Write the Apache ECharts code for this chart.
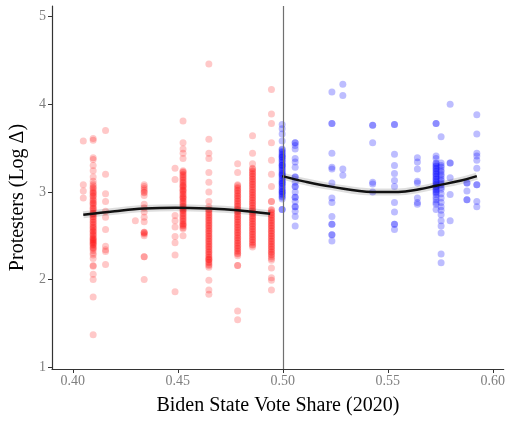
<!DOCTYPE html>
<html>
<head>
<meta charset="utf-8">
<script src="https://cdn.jsdelivr.net/npm/echarts@6.0.0/dist/echarts.min.js"></script>
<style>
  html, body { margin: 0; padding: 0; background: #fff; }
  #chart { width: 508px; height: 421px; }
</style>
</head>
<body>
<div id="chart"></div>
<script>
// Biden vote share of each state column (red: below 0.5, blue: above)
// dense columns repeat close values because the points overlap in the picture
var redX = [0.405, 0.4097, 0.4156, 0.4298, 0.434, 0.4487, 0.4525, 0.4648, 0.4785, 0.4856, 0.4946];
var redY = [
  [3.58, 3.08, 3.01, 2.93],
  [3.61, 3.59, 3.39, 3.37, 3.30, 3.24, 3.17, 3.12, 3.09, 3.05, 3.04, 3.00, 2.98, 2.96, 2.93, 2.91, 2.88, 2.86, 2.82, 2.80, 2.76, 2.74, 2.71, 2.69, 2.66, 2.63, 2.60, 2.58, 2.55, 2.52, 2.50, 2.47, 2.45, 2.43, 2.41, 2.39, 2.36, 2.33, 2.30, 2.28, 2.24, 2.16, 2.15, 2.06, 2.00, 1.80, 1.37,
   3.07, 3.02, 2.99, 2.95, 2.90, 2.87, 2.84, 2.81, 2.78, 2.75, 2.72, 2.68, 2.65, 2.62, 2.59, 2.56, 2.54, 2.51, 2.48, 2.46, 2.44, 2.42, 2.40, 2.37, 2.35],
  [3.70, 3.20, 2.98, 2.89, 2.78, 2.71, 2.57, 2.38, 2.34, 2.32, 2.17],
  [2.67],
  [3.08, 3.06, 3.04, 3.02, 3.00, 2.99, 2.96, 2.86, 2.82, 2.77, 2.71, 2.66, 2.54, 2.54, 2.53, 2.52, 2.50, 2.26, 2.26, 2.00],
  [3.27, 3.14, 2.73, 2.67, 2.60, 2.49, 2.42, 2.28, 1.86],
  [3.81, 3.56, 3.49, 3.44, 3.38, 3.24, 3.22, 3.19, 3.16, 3.13, 3.10, 3.07, 3.05, 3.02, 3.00, 2.97, 2.94, 2.92, 2.89, 2.86, 2.83, 2.80, 2.78, 2.75, 2.72, 2.69, 2.66, 2.63, 2.61, 2.58, 2.50,
   3.23, 3.20, 3.17, 3.14, 3.11, 3.08, 3.06, 3.03, 3.01, 2.98, 2.95, 2.93, 2.90, 2.87, 2.84, 2.81, 2.79, 2.76, 2.73, 2.70, 2.67, 2.64, 2.62, 2.59],
  [4.46, 3.60, 3.44, 3.38, 3.22, 3.11, 3.00, 2.89, 2.83, 2.80, 2.77, 2.74, 2.71, 2.68, 2.65, 2.62, 2.59, 2.56, 2.53, 2.50, 2.47, 2.44, 2.41, 2.38, 2.35, 2.32, 2.29, 2.26, 2.23, 2.23, 2.20, 2.17, 2.14, 1.99, 1.88, 1.83,
   2.79, 2.76, 2.73, 2.70, 2.67, 2.64, 2.61, 2.58, 2.55, 2.52, 2.49, 2.46, 2.43, 2.40, 2.37, 2.34, 2.31, 2.28, 2.25, 2.22, 2.19, 2.16],
  [3.32, 3.22, 3.08, 3.05, 3.02, 2.99, 2.96, 2.93, 2.90, 2.87, 2.84, 2.81, 2.78, 2.75, 2.72, 2.69, 2.66, 2.63, 2.60, 2.57, 2.54, 2.51, 2.48, 2.45, 2.42, 2.39, 2.36, 2.33, 2.30, 2.27, 2.16, 2.16, 1.64, 1.54,
   3.07, 3.04, 3.01, 2.98, 2.95, 2.92, 2.89, 2.86, 2.83, 2.80, 2.77, 2.74, 2.71, 2.68, 2.65, 2.62, 2.59, 2.56, 2.53, 2.50, 2.47, 2.44, 2.41, 2.38, 2.35, 2.32, 2.29],
  [3.64, 3.44, 3.32, 3.27, 3.24, 3.21, 3.18, 3.15, 3.12, 3.09, 3.06, 3.03, 3.00, 2.97, 2.94, 2.91, 2.88, 2.85, 2.82, 2.79, 2.76, 2.73, 2.70, 2.67, 2.64, 2.61, 2.58, 2.55, 2.52, 2.49, 2.46, 2.43, 2.40, 2.37,
   3.26, 3.23, 3.20, 3.17, 3.14, 3.11, 3.08, 3.05, 3.02, 2.99, 2.96, 2.93, 2.90, 2.87, 2.84, 2.81, 2.78, 2.75, 2.72, 2.69, 2.66, 2.63, 2.60, 2.57, 2.54, 2.51, 2.48, 2.45, 2.42, 2.39],
  [4.17, 3.89, 3.78, 3.56, 3.36, 3.20, 3.06, 2.89, 2.89, 2.80, 2.77, 2.74, 2.71, 2.68, 2.65, 2.62, 2.59, 2.56, 2.53, 2.50, 2.47, 2.44, 2.41, 2.38, 2.35, 2.32, 2.29, 2.26, 2.22, 2.13, 2.02, 1.99, 1.88,
   2.79, 2.76, 2.73, 2.70, 2.67, 2.64, 2.61, 2.58, 2.55, 2.52, 2.49, 2.46, 2.43, 2.40, 2.37, 2.34, 2.31, 2.28, 2.24]
];

var blueX = [0.4997, 0.5059, 0.5234, 0.5286, 0.5428, 0.5532, 0.5641, 0.5730, 0.5754, 0.5797, 0.5877, 0.5924];
var blueY = [
  [3.77, 3.72, 3.66, 3.58, 3.49, 3.46, 3.43, 3.40, 3.37, 3.34, 3.31, 3.28, 3.25, 3.22, 3.19, 3.16, 3.13, 3.10, 3.07, 3.04, 3.01, 2.98, 2.95, 2.92, 3.40, 3.30, 3.20, 3.10, 3.00, 2.80, 2.80,
   3.48, 3.45, 3.42, 3.39, 3.36, 3.33, 3.30, 3.27, 3.24, 3.21, 3.18, 3.15, 3.12, 3.09, 3.06, 3.03, 3.00, 2.97, 2.94],
  [3.56, 3.56, 3.53, 3.49, 3.38, 3.34, 3.28, 3.17, 3.17, 3.11, 3.06, 3.06, 3.00, 2.94, 2.94, 2.89, 2.83, 2.83, 2.78, 2.72, 2.61],
  [4.14, 3.78, 3.78, 3.44, 3.28, 3.26, 3.10, 2.93, 2.88, 2.72, 2.63, 2.63, 2.51, 2.51, 2.44],
  [4.23, 4.10, 3.26, 3.19],
  [3.76, 3.76, 3.56, 3.11, 3.09, 3.00],
  [3.77, 3.77, 3.43, 3.30, 3.21, 3.13, 3.06, 2.88, 2.77, 2.63, 2.63, 2.57],
  [3.39, 3.34, 3.26, 3.12, 3.10, 2.93, 2.88, 2.86],
  [3.78, 3.78, 3.41, 3.38, 3.33, 3.30, 3.27, 3.24, 3.21, 3.18, 3.15, 3.12, 3.09, 3.06, 3.03, 3.00, 2.97, 2.94, 2.91, 2.88, 2.86, 2.80,
   3.32, 3.29, 3.26, 3.23, 3.20, 3.17, 3.14, 3.11, 3.08, 3.05, 3.02, 2.99],
  [3.63, 3.33, 3.28, 3.23, 3.18, 3.13, 3.08, 3.03, 2.98, 2.93, 2.88, 2.83, 2.79, 2.74, 2.67, 2.61, 2.53, 2.29, 2.19,
   3.30, 3.25, 3.20, 3.15, 3.10, 3.05],
  [4.00, 3.33, 3.33, 3.16, 2.97, 2.67],
  [3.10, 3.10, 3.01, 2.91, 2.91],
  [3.88, 3.66, 3.44, 3.41, 3.36, 3.27, 3.08, 3.08, 2.89, 2.83]
];

// quadratic fit lines
var redFitX = [0.405, 0.42, 0.434, 0.449, 0.465, 0.4785, 0.494];
var redFitY = [2.74, 2.78, 2.81, 2.82, 2.81, 2.79, 2.75];
var blueFitX = [0.4997, 0.51, 0.523, 0.5428, 0.555, 0.565, 0.573, 0.585, 0.5924];
var blueFitY = [3.18, 3.12, 3.06, 3.00, 3.00, 3.03, 3.07, 3.13, 3.18];

var xTicks = [0.40, 0.45, 0.50, 0.55, 0.60];
var yTicks = [1, 2, 3, 4, 5];
var cutoff = 0.5;

function toPoints(xs, ys) {
  var out = [];
  for (var i = 0; i < xs.length; i++) {
    for (var j = 0; j < ys[i].length; j++) {
      out.push([xs[i], ys[i][j]]);
    }
  }
  return out;
}

function zip(xs, ys) {
  return xs.map(function (x, i) { return [x, ys[i]]; });
}

var serif = '"Liberation Serif", "DejaVu Serif", serif';

var chart = echarts.init(document.getElementById('chart'));

var option = {
  animation: false,
  backgroundColor: '#fff',
  grid: { left: 51, right: 2, top: 6, bottom: 42 },
  xAxis: {
    type: 'value',
    min: 0.3901,
    max: 0.6052,
    name: 'Biden State Vote Share (2020)',
    nameLocation: 'middle',
    nameGap: 27,
    nameTextStyle: { fontFamily: serif, fontSize: 20, color: '#000' },
    axisLine: { lineStyle: { color: '#333', width: 1.2 } },
    axisTick: { length: 4, lineStyle: { color: '#333' }, customValues: xTicks },
    axisLabel: {
      fontFamily: serif, fontSize: 14, color: '#7f7f7f', margin: 5,
      customValues: xTicks,
      formatter: function (v) { return v.toFixed(2); }
    },
    splitLine: { show: false }
  },
  yAxis: {
    type: 'value',
    min: 0.978,
    max: 5.122,
    name: 'Protesters (Log Δ)',
    nameLocation: 'middle',
    nameRotate: 90,
    nameGap: 24,
    nameTextStyle: { fontFamily: serif, fontSize: 20, color: '#000', padding: [0, 20, 0, 0] },
    axisLine: { show: true, lineStyle: { color: '#333', width: 1.2 } },
    axisTick: { show: true, length: 4, lineStyle: { color: '#333' }, customValues: yTicks },
    axisLabel: { fontFamily: serif, fontSize: 14, color: '#7f7f7f', margin: 6, customValues: yTicks },
    splitLine: { show: false }
  },
  series: [
    {
      type: 'scatter',
      symbolSize: 7,
      itemStyle: { color: 'rgba(255,0,0,0.27)' },
      data: toPoints(redX, redY),
      markLine: {
        silent: true,
        symbol: 'none',
        label: { show: false },
        lineStyle: { color: '#707070', width: 1.2, type: 'solid' },
        data: [{ xAxis: cutoff }]
      }
    },
    {
      type: 'scatter',
      symbolSize: 7,
      itemStyle: { color: 'rgba(0,0,255,0.32)' },
      data: toPoints(blueX, blueY)
    },
    {
      type: 'line', smooth: 0.4, showSymbol: false,
      lineStyle: { color: 'rgba(0,0,0,0.13)', width: 7 },
      data: zip(redFitX, redFitY)
    },
    {
      type: 'line', smooth: 0.4, showSymbol: false,
      lineStyle: { color: 'rgba(0,0,0,0.13)', width: 7 },
      data: zip(blueFitX, blueFitY)
    },
    {
      type: 'line', smooth: 0.4, showSymbol: false,
      lineStyle: { color: '#111', width: 2.5 },
      data: zip(redFitX, redFitY)
    },
    {
      type: 'line', smooth: 0.4, showSymbol: false,
      lineStyle: { color: '#111', width: 2.5 },
      data: zip(blueFitX, blueFitY)
    }
  ]
};

chart.setOption(option);
</script>
</body>
</html>
